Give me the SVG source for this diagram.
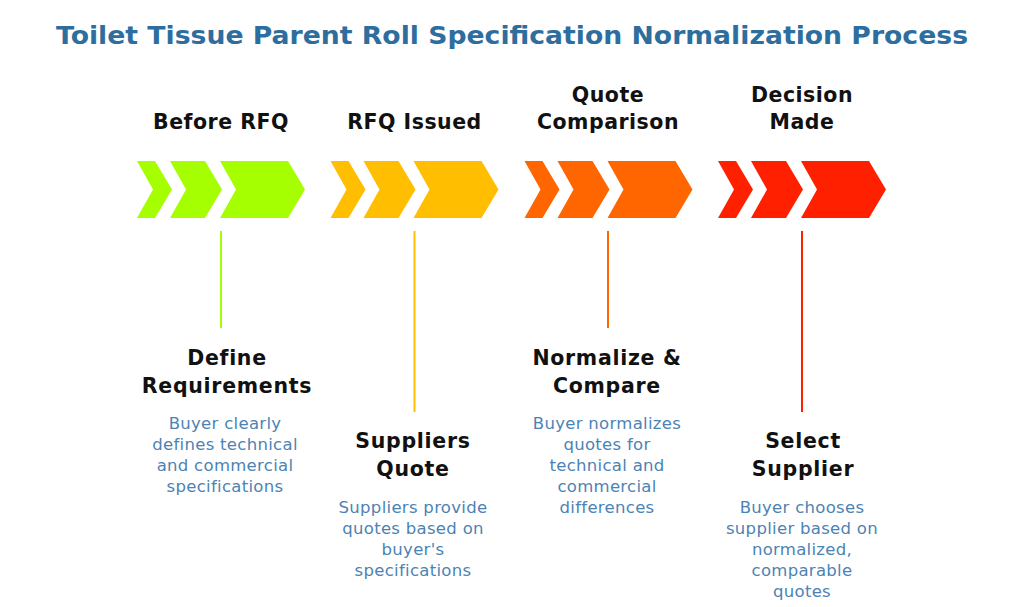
<svg xmlns="http://www.w3.org/2000/svg" xmlns:xlink="http://www.w3.org/1999/xlink" width="1024" height="607" viewBox="0 0 1024 607">
<style>
.title{font-family:"DejaVu Sans","Open Sans",sans-serif;font-weight:700;font-size:25px;fill:#2D6E9E;text-anchor:middle}
.phase{font-family:"DejaVu Sans","Open Sans",sans-serif;font-weight:700;font-size:20.5px;letter-spacing:0.5px;fill:#111;text-anchor:middle}
.head{font-family:"DejaVu Sans","Open Sans",sans-serif;font-weight:700;font-size:20.5px;letter-spacing:0.7px;fill:#111;text-anchor:middle}
.desc{font-family:"DejaVu Sans","Open Sans",sans-serif;font-weight:400;font-size:16.5px;letter-spacing:0.3px;fill:#4C83B3;text-anchor:middle}
.conn line{stroke-width:2}
</style>
<defs>
<g id="chev">
<polygon points="0,0 18,0 35,28.5 18,57 0,57 16,28.5"/>
<polygon points="33,0 68,0 85,28.5 68,57 33,57 49,28.5"/>
<polygon points="83,0 151,0 168,28.5 151,57 83,57 99,28.5"/>
</g>
</defs>
<rect width="1024" height="607" fill="#ffffff"/>
<text class="title" x="512" y="44" textLength="912" lengthAdjust="spacingAndGlyphs">Toilet Tissue Parent Roll Specification Normalization Process</text>

<g id="stage-before-rfq">
<text class="phase" x="221" y="129">Before RFQ</text>
<use xlink:href="#chev" x="137" y="161" fill="#A6FF00"/>
</g>
<g id="stage-rfq-issued">
<text class="phase" x="414.5" y="129">RFQ Issued</text>
<use xlink:href="#chev" x="330.5" y="161" fill="#FFBF00"/>
</g>
<g id="stage-quote-comparison">
<text class="phase" x="608" y="102">Quote</text>
<text class="phase" x="608" y="129">Comparison</text>
<use xlink:href="#chev" x="524.5" y="161" fill="#FF6600"/>
</g>
<g id="stage-decision-made">
<text class="phase" x="802" y="102">Decision</text>
<text class="phase" x="802" y="129">Made</text>
<use xlink:href="#chev" x="718" y="161" fill="#FF2000"/>
</g>

<g id="connectors" class="conn">
<line x1="221" y1="231" x2="221" y2="328" stroke="#A6FF00"/>
<line x1="414.5" y1="231" x2="414.5" y2="412" stroke="#FFBF00"/>
<line x1="608" y1="231" x2="608" y2="328" stroke="#FF6600"/>
<line x1="802" y1="231" x2="802" y2="412" stroke="#FF2000"/>
</g>

<g id="node-define-requirements">
<text class="head" x="227" y="365">Define</text>
<text class="head" x="227" y="393">Requirements</text>
<text class="desc" x="225" y="429">Buyer clearly</text>
<text class="desc" x="225" y="450">defines technical</text>
<text class="desc" x="225" y="471">and commercial</text>
<text class="desc" x="225" y="492">specifications</text>
</g>
<g id="node-suppliers-quote">
<text class="head" x="413" y="448">Suppliers</text>
<text class="head" x="413" y="476">Quote</text>
<text class="desc" x="413" y="513">Suppliers provide</text>
<text class="desc" x="413" y="534">quotes based on</text>
<text class="desc" x="413" y="555">buyer's</text>
<text class="desc" x="413" y="576">specifications</text>
</g>
<g id="node-normalize-compare">
<text class="head" x="607" y="365">Normalize &amp;</text>
<text class="head" x="607" y="393">Compare</text>
<text class="desc" x="607" y="429">Buyer normalizes</text>
<text class="desc" x="607" y="450">quotes for</text>
<text class="desc" x="607" y="471">technical and</text>
<text class="desc" x="607" y="492">commercial</text>
<text class="desc" x="607" y="513">differences</text>
</g>
<g id="node-select-supplier">
<text class="head" x="803" y="448">Select</text>
<text class="head" x="803" y="476">Supplier</text>
<text class="desc" x="802" y="513">Buyer chooses</text>
<text class="desc" x="802" y="534">supplier based on</text>
<text class="desc" x="802" y="555">normalized,</text>
<text class="desc" x="802" y="576">comparable</text>
<text class="desc" x="802" y="597">quotes</text>
</g>
</svg>
